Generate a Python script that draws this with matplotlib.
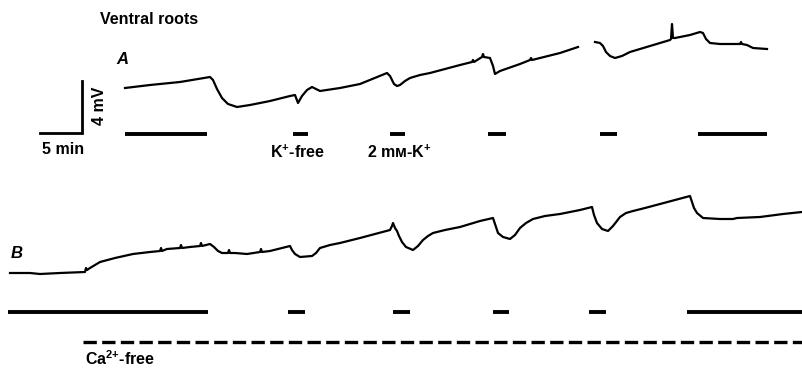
import numpy as np
import matplotlib.pyplot as plt

plt.rcParams['mathtext.fontset'] = 'custom'
plt.rcParams['mathtext.rm'] = 'Liberation Sans:bold'
plt.rcParams['mathtext.default'] = 'rm'

# trace readings (chart units: x = time, y = potential, screen-down)
a1_t = [125, 150, 180, 210, 213, 217, 222, 228, 237, 250, 270, 290, 295, 298, 302, 307, 312, 320,
        340, 360, 387, 390, 394, 397, 400, 405, 410, 420, 430, 460, 472, 473, 474, 482, 483, 484,
        490, 493, 495, 500, 520, 530, 531, 532, 540, 560, 578]
a1_v = [88, 85, 82, 77, 80, 89, 98, 104, 107, 105, 101, 96, 95, 103, 96, 90, 87, 91,
        88, 84, 73, 76, 84, 86, 85, 81, 78, 75, 73, 65, 62, 60, 62, 57, 54, 57,
        58, 66, 74, 71, 64, 60, 58, 60, 58, 53, 47]
a2_t = [595, 600, 603, 606, 610, 615, 622, 630, 650, 670, 671, 672, 673, 675, 690, 700, 703,
        706, 710, 720, 740, 741, 742, 747, 753, 767]
a2_v = [42, 43, 46, 52, 56, 58, 56, 52, 46, 40, 39, 24, 38, 38, 35, 32, 33,
        39, 43, 44, 44, 42, 44, 45, 48, 49]

b_t = [10, 30, 40, 60, 85, 86, 87, 90, 95, 100, 115, 133, 150, 160, 161, 162, 167, 180, 181,
       182, 190, 200, 201, 202, 210, 214, 218, 222, 228, 229, 230, 235, 247, 260, 261, 262, 270,
       290, 292, 295, 300, 312, 316, 320, 330, 340, 360, 390, 392, 393, 395, 397, 399, 402,
       406, 413, 418, 423, 428, 433, 445, 460, 480, 493, 495, 498, 503, 510, 515, 520, 526,
       533, 545, 560, 580, 592, 594, 597, 602, 608, 613, 620, 626, 633, 645, 660, 690, 692,
       694, 697, 703, 720, 733, 737, 760, 783, 802]
b_v = [273, 273, 274, 273, 272, 268, 270, 268, 265, 262, 258, 254, 252, 251, 248, 251, 249, 248,
       245, 248, 247, 246, 243, 246, 244, 247, 251, 253, 253, 250, 253, 253, 254, 252, 249, 252,
       251, 246, 250, 254, 257, 256, 253, 248, 245, 243, 238, 230, 226, 223, 228, 231, 236,
       242, 247, 250, 246, 240, 236, 233, 230, 227, 221, 218, 224, 233, 237, 239, 235, 228,
       223, 219, 216, 214, 210, 207, 215, 223, 229, 231, 226, 217, 213, 211, 208, 204, 196,
       202, 208, 213, 218, 219, 219, 218, 217, 214, 212]

# solution-change bars (start, end)
a_bars = [(125, 207), (293, 308), (390, 405), (488, 506), (600, 617), (698, 767)]
b_bars = [(8, 208), (288, 305), (393, 410), (493, 509), (589, 606), (687, 802)]
ca_free = (83, 802)

fig = plt.figure(figsize=(8.02, 3.68), dpi=100)
ax = fig.add_axes([0, 0, 1, 1])
ax.set_xlim(0, 802)
ax.set_ylim(368, 0)
ax.axis('off')

lw = 1.6
ax.plot(a1_t, a1_v, color='black', lw=lw)
ax.plot(a2_t, a2_v, color='black', lw=lw)
ax.plot(b_t, b_v, color='black', lw=lw)

for s, e in a_bars:
    ax.hlines(134, s, e, color='black', lw=2.8)
for s, e in b_bars:
    ax.hlines(312, s, e, color='black', lw=2.8)
ax.hlines(342, ca_free[0], ca_free[1], color='black', lw=2.4, linestyles=(0, (4.0, 1.6)))

# scale bar
ax.plot([40, 82, 82], [133, 133, 81], color='black', lw=2.0, solid_joinstyle='miter')

font = dict(family=['Liberation Sans', 'DejaVu Sans'], fontweight='bold', color='black')
ax.text(100, 20, 'Ventral roots', fontsize=11.5, ha='left', va='center', **font)
ax.text(116, 60, 'A', fontsize=12, style='italic', ha='left', va='center', **font)
ax.text(11, 253, 'B', fontsize=12, style='italic', ha='left', va='center', **font)
ax.text(100, 106, '4 mV', fontsize=11.5, rotation=90, ha='center', va='center', **font)
ax.text(42, 150, '5 min', fontsize=11.5, ha='left', va='center', **font)
ax.text(270, 152, 'K$^{{+}}$-free', fontsize=11.5, ha='left', va='center', **font)
ax.text(367, 152, '2 mᴍ-K$^{{+}}$', fontsize=11.5, ha='left', va='center', **font)
ax.text(85, 359, 'Ca$^{2{+}}$-free', fontsize=11.5, ha='left', va='center', **font)

fig.savefig('out.png', dpi=100)
